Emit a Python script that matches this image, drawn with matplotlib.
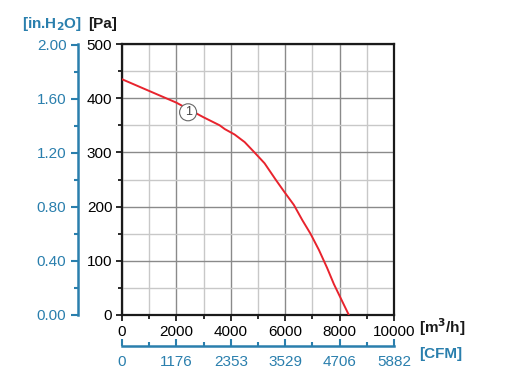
import matplotlib
matplotlib.use('Agg')
import matplotlib.pyplot as plt
from matplotlib.ticker import MultipleLocator

plt.rcParams['font.family'] = ['Liberation Sans', 'DejaVu Sans']

# Kennlinie (Volumenstrom m3/h, Druck Pa)
durchfluss = [0, 970, 1990, 2990, 3590, 3780, 4140, 4510, 4870, 5240, 5660, 5970,
              6320, 6630, 6930, 7240, 7540, 7790, 8340]
druck = [435, 414, 392, 365, 350, 343, 333, 319, 300, 280, 249, 227,
         203, 175, 150, 120, 87, 57, 0]

x_ticks = [0, 2000, 4000, 6000, 8000, 10000]
cfm_labels = ['0', '1176', '2353', '3529', '4706', '5882']
inh2o_ticks = [0.0, 0.4, 0.8, 1.2, 1.6, 2.0]

blau = '#2a7fad'
rot = '#e8232d'
schrift = 11

fig = plt.figure(figsize=(5.05, 3.87), dpi=100)
pos = [122 / 505, 72 / 387, 272 / 505, 271 / 387]
ax = fig.add_axes(pos)

ax.set_xlim(0, 10000)
ax.set_ylim(0, 500)
ax.xaxis.set_major_locator(MultipleLocator(2000))
ax.xaxis.set_minor_locator(MultipleLocator(1000))
ax.yaxis.set_major_locator(MultipleLocator(100))
ax.yaxis.set_minor_locator(MultipleLocator(50))
ax.grid(which='major', color='#8a8a8a', linewidth=1.0)
ax.grid(which='minor', color='#c8c8c8', linewidth=1.0)
ax.set_axisbelow(True)
for s in ax.spines.values():
    s.set_linewidth(1.6)
    s.set_color('#1a1a1a')
ax.tick_params(which='both', direction='out', color='#1a1a1a', width=1.3, labelsize=schrift)
ax.tick_params(which='major', length=4, pad=3)
ax.tick_params(which='minor', length=3)

# Kurve, die Markierung deckt sie ab
ax.plot(durchfluss, druck, color=rot, linewidth=1.4, zorder=3)
ax.text(2430, 374, '1', ha='center', va='center', fontsize=9, color='#444444', zorder=4,
        bbox=dict(boxstyle='circle,pad=0.2', facecolor='white', edgecolor='#666666', linewidth=0.8))

# zweite Achse links: in.H2O
ax2 = fig.add_axes(pos)
ax2.patch.set_visible(False)
for name in ['top', 'right', 'bottom']:
    ax2.spines[name].set_visible(False)
ax2.set_ylim(0, 500 / 249.09)
ax2.set_xticks([])
ax2.set_yticks(inh2o_ticks)
ax2.set_yticklabels(['%.2f' % v for v in inh2o_ticks])
ax2.yaxis.set_minor_locator(MultipleLocator(0.2))
ax2.spines['left'].set_position(('outward', 32))
ax2.spines['left'].set_color(blau)
ax2.spines['left'].set_linewidth(1.8)
ax2.tick_params(axis='y', which='both', colors=blau, labelsize=schrift, width=1.5, direction='out')
ax2.tick_params(axis='y', which='major', length=5, pad=3)
ax2.tick_params(axis='y', which='minor', length=3)

# zweite Achse unten: CFM
ax3 = fig.add_axes(pos)
ax3.patch.set_visible(False)
for name in ['top', 'right', 'left']:
    ax3.spines[name].set_visible(False)
ax3.set_xlim(0, 10000)
ax3.set_yticks([])
ax3.set_xticks(x_ticks)
ax3.set_xticklabels(cfm_labels)
ax3.xaxis.set_minor_locator(MultipleLocator(1000))
ax3.spines['bottom'].set_position(('outward', 22))
ax3.spines['bottom'].set_color(blau)
ax3.spines['bottom'].set_linewidth(1.8)
ax3.tick_params(axis='x', which='both', colors=blau, labelsize=schrift, width=1.5, direction='in')
ax3.tick_params(axis='x', which='major', length=5, pad=7)
ax3.tick_params(axis='x', which='minor', length=3)

# Einheiten
fig.text(103 / 505, 1 - 28 / 387, '[Pa]', ha='center', va='baseline', fontsize=schrift, fontweight='bold', color='#1a1a1a')
fig.text(52 / 505, 1 - 28 / 387, '[in.H$_\\mathbf{2}$O]', ha='center', va='baseline', fontsize=schrift, fontweight='bold', color=blau)
fig.text(419 / 505, 1 - 327 / 387, '[m$^\\mathbf{3}$/h]', ha='left', va='center', fontsize=schrift, fontweight='bold', color='#1a1a1a')
fig.text(419 / 505, 1 - 354 / 387, '[CFM]', ha='left', va='center', fontsize=schrift, fontweight='bold', color=blau)

fig.savefig('out.png', dpi=100)
